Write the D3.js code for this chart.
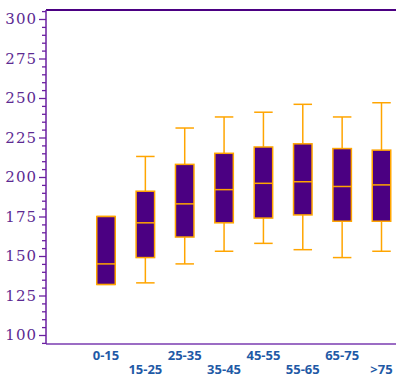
<!DOCTYPE html>
<html>
<head>
<meta charset="utf-8">
<script src="https://cdn.jsdelivr.net/npm/d3@7"></script>
<style>
  body { margin: 0; background: #fff; }
  svg { display: block; }
  .ytick text { font-family: "DejaVu Serif", "Liberation Serif", "Times New Roman", serif; }
</style>
</head>
<body>
<div id="chart"></div>
<script>
// age groups
var groups = ['0-15', '15-25', '25-35', '35-45', '45-55', '55-65', '65-75', '>75'];
// box plot stats
var mins    = [132, 133, 145, 153, 158, 154, 149, 153];
var q1s     = [132, 149, 162, 171, 174, 176, 172, 172];
var medians = [145, 171, 183, 192, 196, 197, 194, 195];
var q3s     = [175, 191, 208, 215, 219, 221, 218, 217];
var maxs    = [175, 213, 231, 238, 241, 246, 238, 247];
var yTicks  = [100, 125, 150, 175, 200, 225, 250, 275, 300];

var width = 396;
var height = 378;
var margin = { top: 10, right: 0, bottom: 34, left: 46 };

var svg = d3.select('#chart').append('svg')
  .attr('width', width).attr('height', height);

var y = d3.scaleLinear().domain([100, 300]).range([335, 19]);

var x = d3.scalePoint().domain(groups).range([106, 381.5]);
var boxW = 18.5;

var data = groups.map(function(g, i) {
  return { g: g, min: mins[i], q1: q1s[i], med: medians[i], q3: q3s[i], max: maxs[i] };
});

// 軸の線
var axisColor = '#6a1fa0';
svg.append('line')
  .attr('x1', margin.left).attr('x2', width)
  .attr('y1', margin.top).attr('y2', margin.top)
  .attr('stroke', '#4b0082').attr('stroke-width', 2);
svg.append('line')
  .attr('x1', margin.left).attr('x2', width)
  .attr('y1', height - margin.bottom).attr('y2', height - margin.bottom)
  .attr('stroke', '#9b6cc4').attr('stroke-width', 2);

// minor ticks every 5
var minor = d3.range(95, 306, 5).filter(function(v) { return v % 25 !== 0; });
var gMinor = svg.append('g')
  .attr('transform', 'translate(' + margin.left + ',0)')
  .call(d3.axisLeft(y).tickValues(minor).tickSize(4).tickFormat(''));
gMinor.select('.domain').remove();
gMinor.selectAll('line').attr('stroke', axisColor).attr('stroke-width', 1.3);

var gY = svg.append('g')
  .attr('class', 'ytick')
  .attr('transform', 'translate(' + margin.left + ',0)')
  .call(d3.axisLeft(y).tickValues(yTicks).tickSize(7).tickPadding(2));
gY.attr('font-family', null).attr('font-size', 15);
gY.select('.domain').remove();
gY.selectAll('line').attr('stroke', axisColor).attr('stroke-width', 1.3);
gY.selectAll('text')
  .attr('fill', '#5c2a92')
  .attr('letter-spacing', 1);

svg.append('line')
  .attr('x1', margin.left).attr('x2', margin.left)
  .attr('y1', margin.top).attr('y2', height - margin.bottom)
  .attr('stroke', axisColor).attr('stroke-width', 1.5);

// x labels, alternating rows
svg.selectAll('.xlab').data(groups).enter()
  .append('text')
  .attr('class', 'xlab')
  .attr('x', function(d) { return x(d); })
  .attr('y', function(d, i) { return i % 2 === 0 ? 360 : 374; })
  .attr('text-anchor', 'middle')
  .attr('fill', '#1f5aa6')
  .attr('font-family', '"Open Sans", sans-serif')
  .attr('font-weight', 'bold')
  .attr('font-size', 13)
  .text(function(d) { return d; });

// boxes
var orange = '#ffa500';
var box = svg.selectAll('.box').data(data).enter()
  .append('g').attr('class', 'box');

box.append('line')
  .attr('x1', function(d) { return x(d.g); }).attr('x2', function(d) { return x(d.g); })
  .attr('y1', function(d) { return y(d.max); }).attr('y2', function(d) { return y(d.min); })
  .attr('stroke', orange).attr('stroke-width', 1.5);

['max', 'min'].forEach(function(k) {
  box.append('line')
    .attr('x1', function(d) { return x(d.g) - boxW / 2; })
    .attr('x2', function(d) { return x(d.g) + boxW / 2; })
    .attr('y1', function(d) { return y(d[k]); })
    .attr('y2', function(d) { return y(d[k]); })
    .attr('stroke', orange).attr('stroke-width', 1.5);
});

box.append('rect')
  .attr('x', function(d) { return x(d.g) - boxW / 2; })
  .attr('width', boxW)
  .attr('y', function(d) { return y(d.q3); })
  .attr('height', function(d) { return y(d.q1) - y(d.q3); })
  .attr('fill', '#4b0082')
  .attr('stroke', orange).attr('stroke-width', 1.5);

box.append('line')
  .attr('x1', function(d) { return x(d.g) - boxW / 2; })
  .attr('x2', function(d) { return x(d.g) + boxW / 2; })
  .attr('y1', function(d) { return y(d.med); })
  .attr('y2', function(d) { return y(d.med); })
  .attr('stroke', orange).attr('stroke-width', 1.5);
</script>
</body>
</html>
